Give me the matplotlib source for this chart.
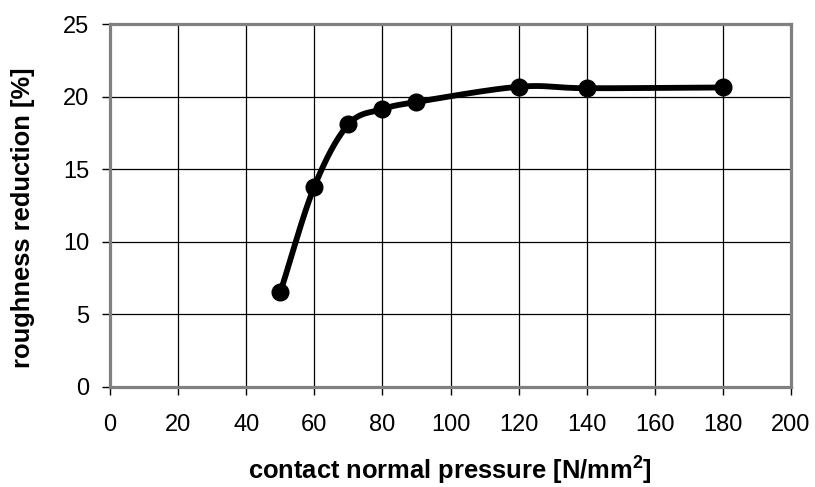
import numpy as np
import matplotlib
matplotlib.use("Agg")
import matplotlib.pyplot as plt

pressure = [50, 60, 70, 80, 90, 120, 140, 180]
reduction = [6.5, 13.8, 18.1, 19.15, 19.65, 20.7, 20.6, 20.65]
x_ticks = [0, 20, 40, 60, 80, 100, 120, 140, 160, 180, 200]
y_ticks = [0, 5, 10, 15, 20, 25]
x_label = 'contact normal pressure [N/mm$^\\mathbf{2}$]'
y_label = 'roughness reduction [%]'

plt.rcParams['font.family'] = ['Liberation Sans', 'DejaVu Sans']
plt.rcParams['mathtext.fontset'] = 'custom'
plt.rcParams['mathtext.bf'] = 'Liberation Sans:bold'
plt.rcParams['mathtext.rm'] = 'Liberation Sans'


def smooth_curve(xs, ys, n=40):
    xs = np.asarray(xs, float)
    ys = np.asarray(ys, float)
    px = np.concatenate([[2 * xs[0] - xs[1]], xs, [2 * xs[-1] - xs[-2]]])
    py = np.concatenate([[2 * ys[0] - ys[1]], ys, [2 * ys[-1] - ys[-2]]])
    ox, oy = [], []
    for i in range(1, len(px) - 2):
        p0, p1, p2, p3 = (np.array([px[j], py[j]]) for j in (i - 1, i, i + 1, i + 2))
        c1 = p1 + (p2 - p0) / 6.0
        c2 = p2 - (p3 - p1) / 6.0
        t = np.linspace(0, 1, n)[:, None]
        pts = ((1 - t) ** 3) * p1 + 3 * ((1 - t) ** 2) * t * c1 + 3 * (1 - t) * t ** 2 * c2 + t ** 3 * p2
        ox.extend(pts[:, 0]); oy.extend(pts[:, 1])
    return np.array(ox), np.array(oy)


W, H = 815, 487
fig = plt.figure(figsize=(W / 100, H / 100), dpi=100)
L, R, T, B = 110, 791, 24.5, 386.5
ax = fig.add_axes([L / W, (H - B) / H, (R - L) / W, (B - T) / H])

ax.set_xlim(0, 200)
ax.set_ylim(0, 25)
ax.set_xticks(x_ticks)
ax.set_yticks(y_ticks)
ax.grid(True, color='black', linewidth=0.9)
ax.set_axisbelow(True)

sx, sy = smooth_curve(pressure, reduction)
ax.plot(sx, sy, color='black', linewidth=4.2, solid_capstyle='round', zorder=3)
ax.plot(pressure, reduction, 'o', color='black', markersize=12, zorder=4)

for s in ax.spines.values():
    s.set_color('#808080')
    s.set_linewidth(2.3)

ax.tick_params(axis='both', direction='out', length=6, width=1, color='black',
               labelsize=17)
ax.tick_params(axis='x', pad=14)
ax.tick_params(axis='y', pad=9)

# axis titles, sized to the reference's extents
fig.canvas.draw()
renderer = fig.canvas.get_renderer()

xt = fig.text(449.5 / W, (H - 479) / H, x_label, fontsize=16, fontweight='bold',
              ha='center', va='baseline')
bb = xt.get_window_extent(renderer)
xt.set_fontsize(16 * 405 / bb.width)

yt = fig.text(23 / W, (H - 217.5) / H, y_label, fontsize=16, fontweight='bold',
              ha='center', va='center', rotation=90)
bb = yt.get_window_extent(renderer)
yt.set_fontsize(16 * 299 / bb.height)

fig.savefig('out.png', dpi=100)
